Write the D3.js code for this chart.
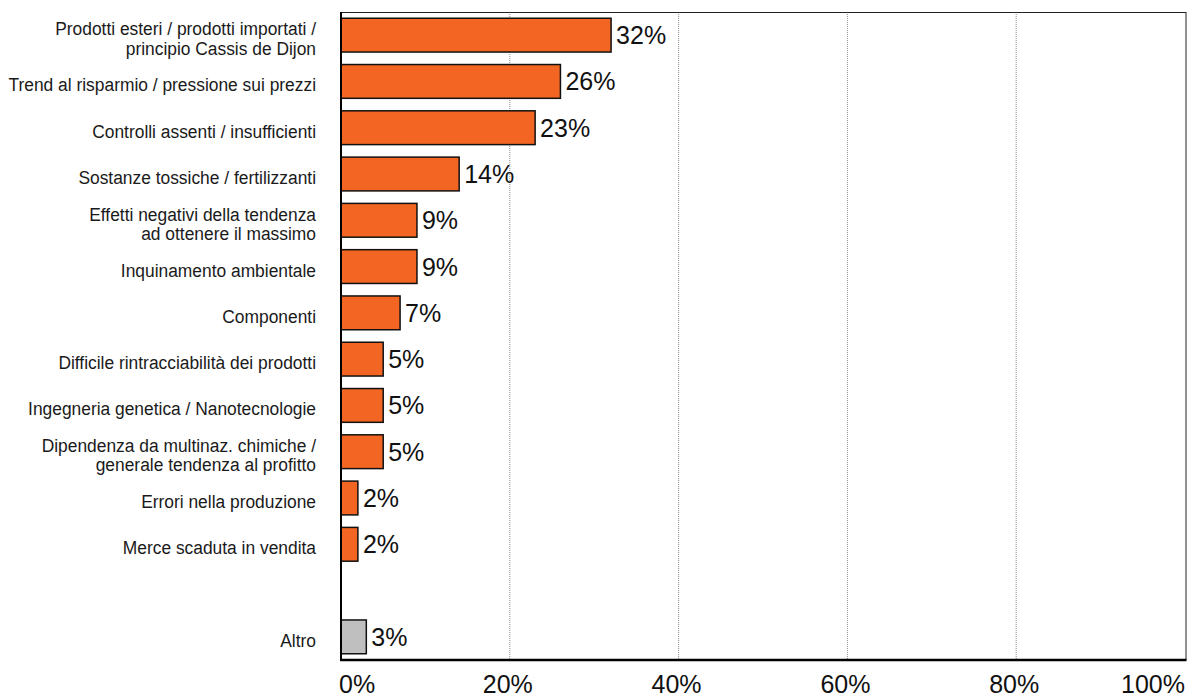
<!DOCTYPE html>
<html>
<head>
<meta charset="utf-8">
<script src="https://cdn.jsdelivr.net/npm/d3@7"></script>
<style>
  html, body { margin: 0; padding: 0; background: #fff; }
  svg { display: block; }
  .cat { font-family: "Liberation Sans", Arial, sans-serif; font-size: 19px; fill: #1a1a1a; }
  .val, .tick-label { font-family: "Liberation Sans", Arial, sans-serif; font-size: 25px; fill: #111; }
</style>
</head>
<body>
<svg id="chart" width="1187" height="697"></svg>
<script>
// Category labels (line-broken); an empty entry leaves a gap before "Altro"
const categories = [
  ["Prodotti esteri / prodotti importati /", "principio Cassis de Dijon"],
  ["Trend al risparmio / pressione sui prezzi"],
  ["Controlli assenti / insufficienti"],
  ["Sostanze tossiche / fertilizzanti"],
  ["Effetti negativi della tendenza", "ad ottenere il massimo"],
  ["Inquinamento ambientale"],
  ["Componenti"],
  ["Difficile rintracciabilità dei prodotti"],
  ["Ingegneria genetica / Nanotecnologie"],
  ["Dipendenza da multinaz. chimiche /", "generale tendenza al profitto"],
  ["Errori nella produzione"],
  ["Merce scaduta in vendita"],
  [],
  ["Altro"]
];
const values = [32, 26, 23, 14, 9, 9, 7, 5, 5, 5, 2, 2, null, 3];
const isOther = [false, false, false, false, false, false, false, false, false, false, false, false, false, true];
const tickValues = [0, 20, 40, 60, 80, 100];
const tickLabels = ["0%", "20%", "40%", "60%", "80%", "100%"];

const svg = d3.select("#chart");
const plot = { left: 341, right: 1185, top: 12, bottom: 660 };
const labelRight = 316;      // right edge of the category labels
const labelSqueeze = 0.915;  // horizontal condensing of the category labels

const x = d3.scaleLinear().domain([0, 100]).range([plot.left, plot.right]);
const y = d3.scaleBand()
  .domain(d3.range(categories.length))
  .range([plot.top, plot.bottom])
  .paddingInner(0.27)
  .paddingOuter(0.135);

// Dotted vertical gridlines
svg.append("g")
  .selectAll("line")
  .data(tickValues.filter(v => v > 0 && v < 100))
  .join("line")
  .attr("x1", d => x(d)).attr("x2", d => x(d))
  .attr("y1", plot.top).attr("y2", plot.bottom)
  .attr("stroke", "#8c8c8c")
  .attr("stroke-width", 1)
  .attr("stroke-dasharray", "1,1");

// Frame: thin top and right edges
svg.append("line")
  .attr("x1", plot.left).attr("x2", x(100) + 1)
  .attr("y1", plot.top + 0.5).attr("y2", plot.top + 0.5)
  .attr("stroke", "#222").attr("stroke-width", 1);
svg.append("line")
  .attr("x1", x(100) + 1).attr("x2", x(100) + 1)
  .attr("y1", plot.top).attr("y2", plot.bottom)
  .attr("stroke", "#222").attr("stroke-width", 1);

const rows = values.map((v, i) => ({ i, v, lines: categories[i], other: isOther[i] }));
const barRows = rows.filter(d => d.v !== null);

// Bars
svg.append("g")
  .selectAll("rect")
  .data(barRows)
  .join("rect")
  .attr("x", x(0))
  .attr("y", d => y(d.i))
  .attr("width", d => x(d.v) - x(0))
  .attr("height", y.bandwidth())
  .attr("fill", d => d.other ? "#bfbfbf" : "#f26522")
  .attr("stroke", "#111")
  .attr("stroke-width", 1.5);

// Value labels
svg.append("g")
  .selectAll("text")
  .data(barRows)
  .join("text")
  .attr("class", "val")
  .attr("x", d => x(d.v) + 5)
  .attr("y", d => y(d.i) + y.bandwidth() / 2 + 9)
  .text(d => d.v + "%");

// Category labels, right-aligned and slightly condensed
const catG = svg.append("g");
rows.forEach(d => {
  const n = d.lines.length;
  const cy = y(d.i) + y.bandwidth() / 2;
  d.lines.forEach((line, k) => {
    const by = cy + 10 + (k - (n - 1) / 2) * 19.5;
    catG.append("text")
      .attr("class", "cat")
      .attr("text-anchor", "end")
      .attr("transform", `translate(${labelRight},${by}) scale(${labelSqueeze},1)`)
      .text(line);
  });
});

// Axis lines
svg.append("line")
  .attr("x1", plot.left).attr("x2", plot.left)
  .attr("y1", plot.top).attr("y2", plot.bottom + 1)
  .attr("stroke", "#000").attr("stroke-width", 2);
svg.append("line")
  .attr("x1", plot.left - 1).attr("x2", x(100) + 1.5)
  .attr("y1", plot.bottom).attr("y2", plot.bottom)
  .attr("stroke", "#000").attr("stroke-width", 2.5);

// Tick labels
svg.append("g")
  .selectAll("text")
  .data(tickValues)
  .join("text")
  .attr("class", "tick-label")
  .attr("x", (d, i) => i === 0 ? x(d) - 2 : (i === tickValues.length - 1 ? x(d) : x(d) - 2))
  .attr("y", 693)
  .attr("text-anchor", (d, i) => i === 0 ? "start" : (i === tickValues.length - 1 ? "end" : "middle"))
  .text((d, i) => tickLabels[i]);
</script>
</body>
</html>
